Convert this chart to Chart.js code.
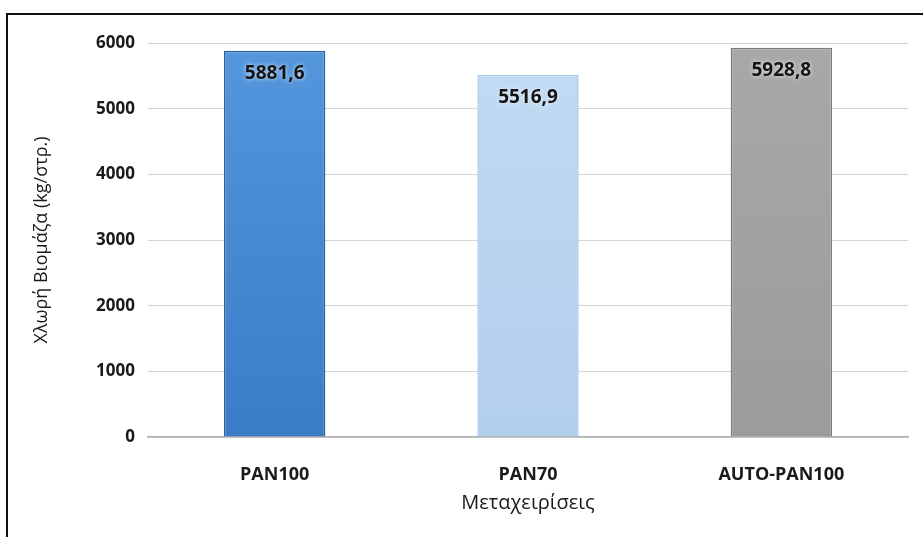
<!DOCTYPE html>
<html>
<head>
<meta charset="utf-8">
<script src="https://cdn.jsdelivr.net/npm/chart.js@4/dist/chart.umd.min.js"></script>
<style>
  html, body { margin: 0; padding: 0; background: #fff; }
  #wrap { position: relative; width: 923px; height: 537px; overflow: hidden; }
  #frame {
    position: absolute; left: 6px; top: 13px; width: 940px; height: 560px;
    border: 2px solid #111; box-sizing: border-box;
  }
  #c { position: absolute; left: 0; top: 0; }
</style>
</head>
<body>
<div id="wrap">
  <div id="frame"></div>
  <canvas id="c" width="923" height="537"></canvas>
</div>
<script>
// Δεδομένα
const categories = ['PAN100', 'PAN70', 'AUTO-PAN100'];
const biomass = [5881.6, 5516.9, 5928.8];
const valueLabels = ['5881,6', '5516,9', '5928,8'];
const yTicks = [0, 1000, 2000, 3000, 4000, 5000, 6000];

const ctx = document.getElementById('c').getContext('2d');

// Διαβαθμίσεις χρώματος για τις μπάρες
function barFill(context) {
    const chart = context.chart;
    const area = chart.chartArea;
    if (!area) return '#4d90dc';
    const g = chart.ctx.createLinearGradient(0, area.top, 0, area.bottom);
    if (context.dataIndex === 0) {
        g.addColorStop(0, '#5597dd');
        g.addColorStop(1, '#3a7cc6');
    } else if (context.dataIndex === 1) {
        g.addColorStop(0, '#c2daf2');
        g.addColorStop(1, '#b3cfee');
    } else {
        g.addColorStop(0, '#a8a8a8');
        g.addColorStop(1, '#9b9b9b');
    }
    return g;
}

// Ετικέτες τιμών μέσα στις μπάρες
const valueLabelPlugin = {
    id: 'valueLabels',
    afterDatasetsDraw(chart) {
        const c = chart.ctx;
        const meta = chart.getDatasetMeta(0);
        c.save();
        c.font = 'bold 19px "Open Sans"';
        c.textAlign = 'center';
        c.textBaseline = 'middle';
        c.fillStyle = '#141414';
        c.shadowColor = 'rgba(255,255,255,0.8)';
        c.shadowBlur = 4;
        meta.data.forEach((bar, i) => {
            c.fillText(valueLabels[i], bar.x, bar.y + 23);
        });
        c.restore();
    }
};

new Chart(ctx, {
    type: 'bar',
    data: {
        labels: categories,
        datasets: [{
            data: biomass,
            backgroundColor: barFill,
            borderColor: ['#2d5f9c', '#a9c9ec', '#7d7d7d'],
            borderWidth: 1.5,
            categoryPercentage: 1,
            barPercentage: 0.4
        }]
    },
    options: {
        responsive: false,
        animation: false,
        events: [],
        layout: { padding: { left: 20, right: 15, top: 43, bottom: 0 } },
        plugins: {
            legend: { display: false },
            tooltip: { enabled: false }
        },
        scales: {
            y: {
                min: 0,
                max: 6000,
                afterBuildTicks: (scale) => {
                    scale.ticks = yTicks.map(v => ({ value: v }));
                },
                afterFit: (scale) => { scale.width = 128; },
                grid: { color: '#d4d4d4', lineWidth: 1, drawTicks: false },
                border: { display: false },
                ticks: {
                    padding: 13,
                    color: '#1a1a1a',
                    callback: (v) => String(v),
                    font: { family: '"Open Sans"', size: 17, weight: 'bold' }
                },
                title: {
                    display: true,
                    text: 'Χλωρή Βιομάζα (kg/στρ.)',
                    color: '#1a1a1a',
                    font: { family: '"Open Sans"', size: 18 },
                    padding: { top: 11, bottom: 0 }
                }
            },
            x: {
                afterFit: (scale) => { scale.height = 100; },
                grid: { display: false },
                border: { display: true, color: '#b0b0b0', width: 1.5 },
                ticks: {
                    padding: 19,
                    color: '#1a1a1a',
                    font: { family: '"Open Sans"', size: 18, weight: 'bold' }
                },
                title: {
                    display: true,
                    text: 'Μεταχειρίσεις',
                    color: '#1a1a1a',
                    font: { family: '"Open Sans"', size: 20 },
                    padding: { top: 0, bottom: 22 }
                }
            }
        }
    },
    plugins: [valueLabelPlugin]
});
</script>
</body>
</html>
